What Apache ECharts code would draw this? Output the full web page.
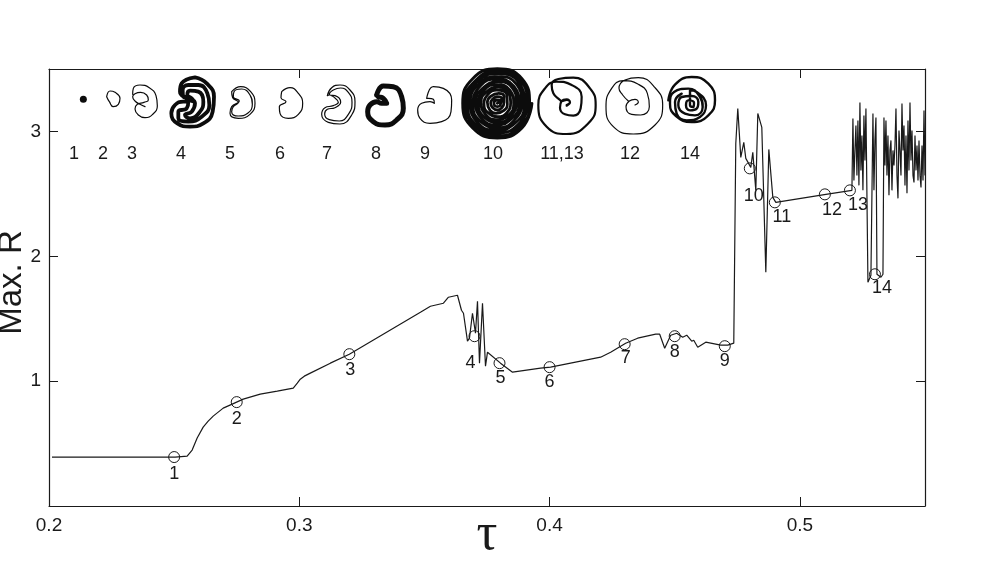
<!DOCTYPE html>
<html><head><meta charset="utf-8">
<style>html,body{margin:0;padding:0;background:#fff}#c{width:981px;height:563px}</style>
<script src="https://cdn.jsdelivr.net/npm/echarts@6/dist/echarts.min.js"></script></head>
<body><div id="c"></div><script>
const tauValues=[.2012,.2504,.2552,.2572,.2592,.2616,.2636,.2656,.2696,.2732,.2776,.2844,.2912,.2976,.2992,.3004,.302,.3044,.3124,.32,.3484,.3524,.3576,.3596,.3632,.3648,.3656,.3672,.368,.3692,.3704,.3712,.372,.3732,.3744,.3752,.3804,.3852,.3964,.4004,.4204,.4244,.4304,.4352,.4424,.444,.446,.4484,.4508,.4532,.4548,.4568,.4576,.4592,.4624,.4644,.4684,.4712,.4736,.4744,.4752,.4764,.4776,.4784,.4804,.4812,.4824,.4832,.4848,.4864,.4876,.4892,.4904,.5104,.5208,.5212,.5216,.522,.5224,.5228,.5232,.5236,.524,.5244,.5248,.5252,.5256,.526,.5264,.5272,.5284,.5288,.5292,.5296,.53,.5304,.5308,.5324,.5332,.5336,.534,.5344,.5348,.5352,.5356,.536,.5364,.5368,.5372,.5376,.538,.5384,.5388,.5392,.5396,.54,.5404,.5408,.5412,.5416,.542,.5424,.5428,.5432,.5436,.544,.5444,.5448,.5452,.5456,.546,.5464,.5468,.5472,.5476,.548,.5484,.5488,.5492,.5496,.55];
const maxR=[.392,.392,.4,.448,.544,.632,.68,.72,.784,.816,.856,.896,.92,.944,.984,1.016,1.04,1.064,1.144,1.216,1.552,1.6,1.624,1.672,1.688,1.568,1.544,1.32,1.344,1.544,1.384,1.64,1.144,1.624,1.12,1.232,1.144,1.072,1.104,1.112,1.192,1.232,1.304,1.344,1.376,1.376,1.264,1.368,1.384,1.352,1.368,1.32,1.328,1.272,1.312,1.304,1.288,1.288,1.304,2.904,3.184,2.792,2.912,2.784,2.712,2.832,2.528,3.144,3.032,1.872,2.856,2.472,2.432,2.496,2.528,3.104,2.608,2.848,3.048,2.648,3.088,2.568,3.232,2.688,2.968,2.528,3.128,2.768,3.184,1.792,1.848,1.832,3.144,2.528,2.928,3.112,1.856,1.832,1.856,3.112,2.728,3.088,2.648,2.968,2.488,2.848,2.928,2.528,2.848,2.728,2.888,3.184,2.648,2.464,3.008,2.848,2.648,3.224,2.848,3.048,2.568,2.968,2.504,3.088,2.688,3.232,2.768,3.008,2.648,2.592,2.968,2.688,2.888,2.608,2.928,2.648,2.552,2.888,2.608,3.168,2.648];
const pointTau=[.25,.275,.32,.37,.38,.4,.43,.45,.47,.48,.49,.51,.52,.53];
const pointR=[.392,.832,1.216,1.36,1.144,1.112,1.296,1.36,1.28,2.704,2.432,2.496,2.528,1.856];
const pointNames=['1','2','3','4','5','6','7','8','9','10','11','12','13','14'];
const orbitNames=['1','2','3','4','5','6','7','8','9','10','11,13','12','14'];
// orbit traces, each in its inset's own units
const orbit1=[[100,103]];
const orbit2=[[170,95],[180,78],[195,82],[210,100],[205,118],[190,125],[178,110],[170,95]];
const orbit3=[[248,88],[250,70],[270,60],[298,68],[318,92],[322,122],[308,148],[285,158],[265,150],[255,132],[262,118],[282,112],[295,105],[290,90],[272,82],[255,86],[248,95],[255,108],[270,118],[285,125]];
const orbit4=[[75,22],[110,40],[132,80],[128,125],[100,160],[60,170],[22,160],[4,130],[15,105],[40,95],[55,95],[50,115],[25,125],[25,145],[55,155],[95,140],[118,105],[112,70],[85,45],[55,45],[38,60],[40,80],[60,85],[75,100],[65,125],[45,135],[60,145],[90,125],[100,95],[85,65],[60,62],[52,75],[65,85],[72,95],[50,85],[30,65],[35,40],[75,22]];
const orbit5=[[545,80],[572,65],[602,80],[615,115],[600,148],[565,160],[540,145],[545,125],[568,108],[550,95],[552,80],[575,72],[600,90],[607,118],[593,145],[565,153],[545,140],[550,125],[565,112],[548,98],[545,80]];
const orbit6=[[695,80],[720,68],[745,85],[758,115],[745,148],[715,160],[690,145],[688,125],[708,110],[693,98],[695,80]];
const orbit7=[[832,92],[845,68],[870,60],[900,75],[915,110],[905,150],[870,177],[835,172],[815,148],[825,128],[850,122],[865,112],[850,95],[838,88],[850,75],[872,69],[895,82],[906,112],[897,145],[868,168],[838,164],[824,147],[832,133],[855,128],[872,112],[855,92],[838,90],[832,92]];
const orbit8=[[65,75],[85,48],[115,50],[140,80],[145,115],[125,150],[90,165],[55,155],[38,125],[45,105],[65,95],[80,100],[95,100],[85,85],[70,80],[65,75]];
const orbit9=[[215,85],[235,50],[265,55],[290,90],[288,125],[260,155],[225,160],[195,145],[188,120],[200,100],[225,95],[238,100],[235,88],[220,85],[215,85]];
const orbit10=[[426,115],[396,189],[322,219],[248,189],[218,115],[248,41],[322,11],[396,41],[419,118],[390,184],[325,212],[254,183],[225,112],[256,47],[320,18],[390,46],[411,112],[385,178],[320,204],[258,180],[233,118],[260,52],[326,26],[384,50],[403,118],[378,172],[318,196],[264,174],[241,112],[266,58],[324,34],[380,58],[395,114],[372,166],[326,188],[270,168],[249,118],[272,62],[318,42],[372,64],[387,118],[366,160],[320,180],[276,162],[257,112],[278,70],[326,50],[368,70],[379,112],[362,154],[324,172],[282,156],[265,116],[282,76],[320,58],[360,76],[371,118],[356,150],[318,164],[288,150],[273,112],[288,82],[326,66],[356,82],[362,112],[350,144],[324,155],[294,143],[282,118],[294,88],[320,75],[350,88],[352,118],[342,136],[318,145],[300,136],[292,112],[302,94],[326,85],[342,94],[342,112],[336,128],[322,135],[308,128],[302,115],[308,102],[322,95],[336,102],[332,115],[330,122],[322,125],[314,122],[312,115],[314,108],[322,105],[330,108],[322,115]];
const orbit11=[[530,120],[540,112],[530,105],[515,108],[510,105],[490,85],[485,60],[505,42],[550,38],[600,70],[617,120],[595,175],[530,207],[470,185],[445,120],[465,70],[500,50],[545,60],[575,95],[572,130],[550,152],[525,148],[510,128],[515,108],[530,103],[540,112],[530,122]];
const orbit12=[[715,108],[698,90],[687,70],[705,45],[745,38],[795,68],[818,120],[795,180],[730,207],[670,185],[648,125],[665,70],[700,47],[745,58],[772,85],[778,125],[752,150],[725,148],[708,125],[718,108],[735,103],[745,112],[735,120]];
const orbit14=[[25,85],[45,38],[95,15],[145,35],[165,85],[145,130],[95,150],[48,132],[30,95],[42,60],[85,50],[120,75],[128,105],[105,130],[75,125],[55,100],[65,75],[95,72],[115,90],[110,110],[90,115],[78,100],[85,85],[102,92],[100,105],[90,100],[90,55],[110,60],[138,100],[120,135],[80,145],[50,125],[45,90],[65,65]];

const ink='#1a1a1a', sans='"Liberation Sans",Arial,sans-serif';
// layout
const labelOffsets=[[0,17],[0,17],[1,16],[-4,27],[1,15],[0,15],[1,14],[0,16],[0,15],[4,28],[7,15],[7,16],[8,15],[7,14]];
const orbitLabelX=[74,103,132,181,230,280,327,376,425,493,562,630,690];
const insetBoxes=[[50,65,340,110],[390,65,340,110],[355,70,100,60],[660,72,60,60],[170,70,60,60]];
const insetOrbits=[
 [0,orbit2,1.2],[0,orbit3,1.2],[4,orbit4,3.8],[0,orbit5,1.2],[0,orbit6,1.2],[0,orbit7,1.2],
 [2,orbit8,5],[2,orbit9,1.2],[1,orbit10,2.8],[1,orbit11,2.2],[1,orbit12,1.2],[3,orbit14,2.4]];

const grid=[{left:49,top:69,width:876,height:437,outerBoundsMode:'none'}];
const hiddenX=[],hiddenY=[];
insetBoxes.forEach((b,i)=>{
  grid.push({left:b[0],top:b[1],width:b[2],height:b[3],outerBoundsMode:'none'});
  hiddenX.push({type:'value',gridIndex:i+1,min:0,max:b[2]*3,show:false});
  hiddenY.push({type:'value',gridIndex:i+1,min:0,max:b[3]*3,inverse:true,show:false});
});
const axisLine={show:true,onZero:false,lineStyle:{color:ink,width:1.2}};
const axisTick={show:true,inside:true,length:9,lineStyle:{color:ink,width:1}};
const labelStyle={color:ink,fontSize:19,fontFamily:sans};
const option={
 animation:false,backgroundColor:'#fff',grid,
 xAxis:[
  {type:'value',min:.2,max:.55,interval:.1,position:'bottom',axisLine,axisTick,splitLine:{show:false},
   axisLabel:{...labelStyle,margin:10,showMaxLabel:false,formatter:v=>v.toFixed(1)},
   name:'τ',nameLocation:'middle',nameGap:29,nameMoveOverlap:false,nameTextStyle:{fontFamily:'"Liberation Serif",serif',fontSize:52,color:ink,verticalAlign:'middle'}},
  {type:'value',min:.2,max:.55,interval:.1,position:'top',axisLine,axisTick,axisLabel:{show:false},splitLine:{show:false}},
  ...hiddenX],
 yAxis:[
  {type:'value',min:0,max:3.5,interval:1,position:'left',axisLine,axisTick,splitLine:{show:false},
   axisLabel:{...labelStyle,margin:8,showMinLabel:false,showMaxLabel:false},
   name:'Max. R',nameLocation:'middle',nameGap:37,nameMoveOverlap:false,nameTextStyle:{fontFamily:sans,fontSize:33,color:ink,verticalAlign:'middle',padding:[0,0,0,10]}},
  {type:'value',min:0,max:3.5,interval:1,position:'right',axisLine,axisTick,axisLabel:{show:false},splitLine:{show:false}},
  ...hiddenY],
 series:[
  {type:'line',xAxisIndex:0,yAxisIndex:0,data:tauValues.map((t,i)=>[t,maxR[i]]),showSymbol:false,symbol:'none',
   lineStyle:{color:ink,width:1.2},clip:true,silent:true},
  {type:'scatter',xAxisIndex:0,yAxisIndex:0,symbol:'circle',symbolSize:11,z:5,
   itemStyle:{color:'rgba(255,255,255,0)',borderColor:ink,borderWidth:1,opacity:1},
   data:pointTau.map((t,i)=>({value:[t,pointR[i]],label:{show:true,formatter:pointNames[i],position:'inside',offset:labelOffsets[i],
     color:ink,fontSize:18,fontFamily:sans,opacity:1}}))},
  {type:'scatter',xAxisIndex:2,yAxisIndex:2,data:orbit1,symbol:'circle',symbolSize:7,silent:true,itemStyle:{color:'#0c0c0c',opacity:1}},
  ...insetOrbits.map(([box,pts,w])=>({type:'line',xAxisIndex:box+2,yAxisIndex:box+2,data:pts,symbol:'none',showSymbol:false,
    smooth:.5,clip:false,silent:true,lineStyle:{color:'#0c0c0c',width:w,cap:'round',join:'round'}}))
 ],
 graphic:orbitNames.map((n,i)=>({type:'text',x:orbitLabelX[i],y:154,silent:true,
   style:{text:n,fill:ink,font:'18px '+sans,textAlign:'center',textVerticalAlign:'middle'}}))
};
echarts.init(document.getElementById('c')).setOption(option);
</script></body></html>
